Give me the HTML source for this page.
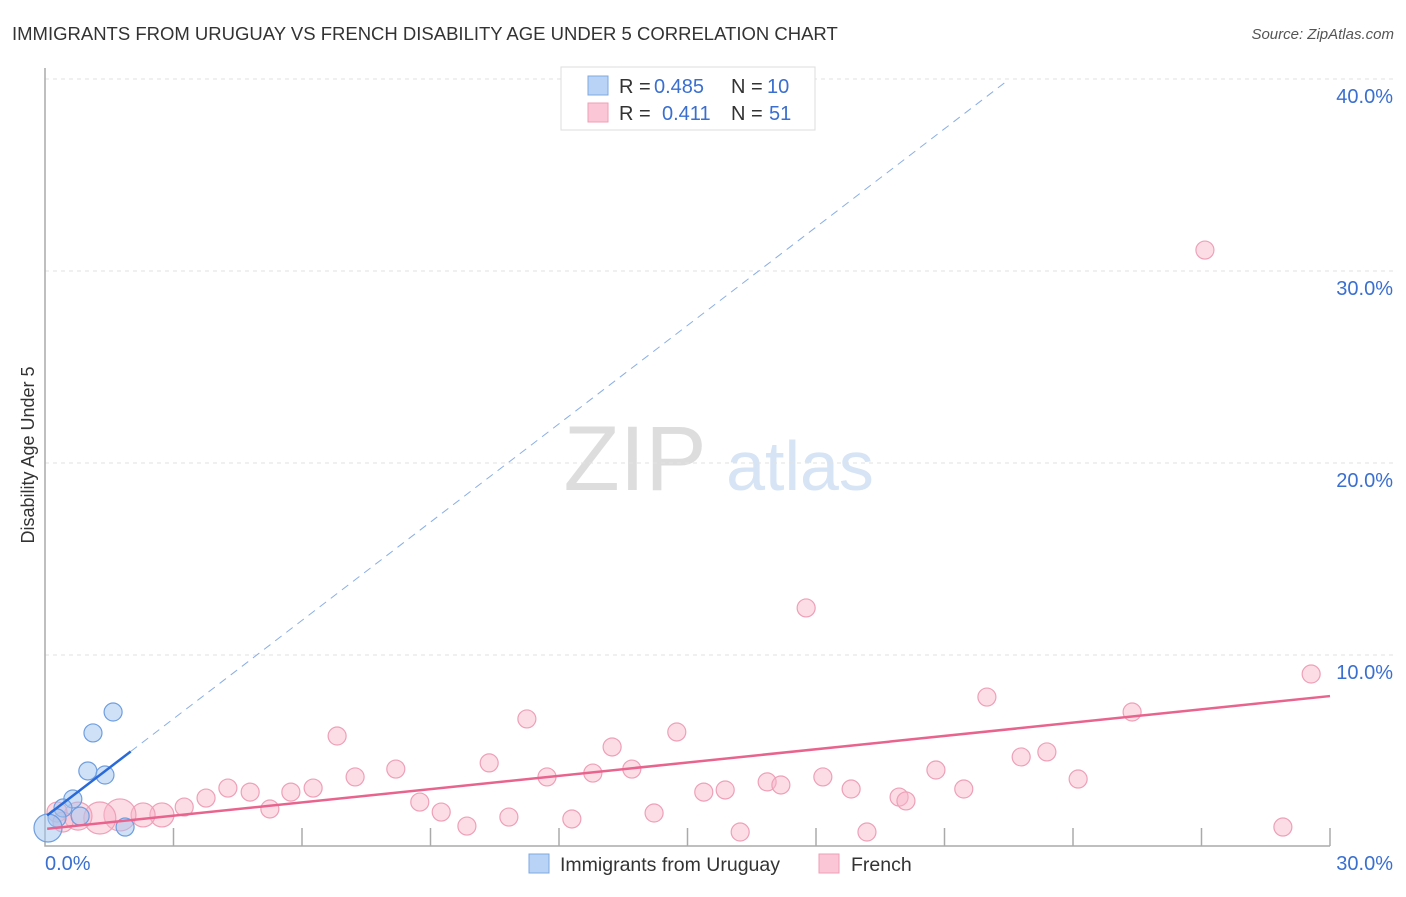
<!DOCTYPE html>
<html><head><meta charset="utf-8"><style>
body{margin:0;background:#fff;font-family:"Liberation Sans",sans-serif}
svg text{font-family:"Liberation Sans",sans-serif}
</style></head><body>
<svg id="chart" width="1406" height="892" xmlns="http://www.w3.org/2000/svg">
<text x="12" y="40" font-size="18.5" fill="#333">IMMIGRANTS FROM URUGUAY VS FRENCH DISABILITY AGE UNDER 5 CORRELATION CHART</text>
<text x="1394" y="39" font-size="15" fill="#555" font-style="italic" text-anchor="end">Source: ZipAtlas.com</text>
<text x="635" y="490" font-size="92" fill="#ddd" font-family="Liberation Serif" text-anchor="middle">ZIP</text>
<text x="800" y="490" font-size="70" fill="#d6e4f5" text-anchor="middle">atlas</text>
<g id="grid"></g><g id="axes"></g><g id="marks"></g>
<text transform="translate(34,455) rotate(-90)" font-size="18" fill="#333" text-anchor="middle">Disability Age Under 5</text>
<g>
<rect x="561" y="67" width="254" height="63" fill="#fff" stroke="#ddd"/>
<rect x="588" y="76" width="20" height="19" fill="#b8d3f6" stroke="#7fa8e0"/>
<rect x="588" y="103" width="20" height="19" fill="#fbc7d6" stroke="#ee9fb6"/>
<text x="619" y="93" font-size="20" fill="#333">R =</text>
<text x="654" y="93" font-size="20" fill="#3a6fd0">0.485</text>
<text x="731" y="93" font-size="20" fill="#333">N =</text>
<text x="767" y="93" font-size="20" fill="#3a6fd0">10</text>
<text x="619" y="120" font-size="20" fill="#333">R =</text>
<text x="662" y="120" font-size="20" fill="#3a6fd0">0.411</text>
<text x="731" y="120" font-size="20" fill="#333">N =</text>
<text x="769" y="120" font-size="20" fill="#3a6fd0">51</text>
</g>
<g>
<rect x="529" y="854" width="20" height="19" fill="#b8d3f6" stroke="#7fa8e0"/>
<text x="560" y="871" font-size="19.5" fill="#333">Immigrants from Uruguay</text>
<rect x="819" y="854" width="20" height="19" fill="#fbc7d6" stroke="#ee9fb6"/>
<text x="851" y="871" font-size="19.5" fill="#333">French</text>
</g>
</svg>
<script>
const yTicks=[10,20,30,40];
const yTickLabels=["10.0%","20.0%","30.0%","40.0%"];
const xTicks=[0,3,6,9,12,15,18,21,24,27,30];
const blueX=[1.59,1.12,1.00,1.40,0.65,0.42,0.82,0.28,1.87,0.07];
const blueY=[7.03,5.94,3.96,3.75,2.50,2.03,1.61,1.51,1.04,0.99];
const blueR=[9,9,9,9,9,9,9,9,9,14];
const pinkX=[27.08,17.77,29.56,21.99,25.38,11.25,6.82,14.75,13.24,23.39,22.79,10.37,8.19,7.24,11.72,12.79,13.70,20.80,24.12,18.16,16.86,17.18,4.27,4.79,6.26,5.74,3.76,3.25,5.25,8.75,9.25,18.82,21.45,19.94,20.10,15.88,15.38,10.83,12.30,14.22,9.85,16.23,19.19,28.90,2.73,2.29,1.75,1.28,0.77,0.28,0.42];
const pinkY=[31.09,12.45,9.01,7.81,7.03,6.67,5.78,5.99,5.21,4.95,4.69,4.38,4.06,3.65,3.65,3.85,4.06,4.01,3.54,3.65,3.39,3.23,3.07,2.86,3.07,2.86,2.55,2.08,1.98,2.34,1.82,3.02,3.02,2.60,2.40,2.97,2.86,1.56,1.46,1.77,1.09,0.78,0.78,1.04,1.67,1.67,1.67,1.51,1.61,1.82,1.30];
const pinkR=[9,9,9,9,9,9,9,9,9,9,9,9,9,9,9,9,9,9,9,9,9,9,9,9,9,9,9,9,9,9,9,9,9,9,9,9,9,9,9,9,9,9,9,9,12,12,16,16,14,10,10];
const blueLine=[1.56,1.707];
const pinkLine=[0.94,0.2307];
const X=v=>45+v/30*1285, Y=v=>847-v*19.2;
const NS="http://www.w3.org/2000/svg";
function mk(p,t,a){const e=document.createElementNS(NS,t);for(const k in a)e.setAttribute(k,a[k]);document.getElementById(p).appendChild(e);return e;}
yTicks.forEach((t,i)=>{
 let l=mk('grid','line',{x1:45,x2:1393,y1:Y(t),y2:Y(t),stroke:'#e2e2e2','stroke-dasharray':'4,4'});
 
 
 let tx=mk('grid','text',{x:1393,y:Y(t)+24,'font-size':20,fill:'#3a6fd0','text-anchor':'end'});
 tx.textContent=yTickLabels[i];
 
 
});
let ax=mk('axes','path',{d:'M45,68 V846 H1330',stroke:'#aaa',fill:'none','stroke-width':1.5});


xTicks.forEach(t=>{if(t===0)return;
 let l=mk('axes','line',{x1:X(t),x2:X(t),y1:828,y2:846,stroke:'#aaa','stroke-width':1.5});
 
 
});
let xl=mk('axes','text',{x:45,y:870,'font-size':20,fill:'#3a6fd0'});xl.textContent='0.0%';


let xr=mk('axes','text',{x:1393,y:870,'font-size':20,fill:'#3a6fd0','text-anchor':'end'});xr.textContent='30.0%';


pinkX.forEach((x,i)=>{
 let c=mk('marks','circle',{cx:X(x),cy:Y(pinkY[i]),r:pinkR[i],fill:'rgba(248,180,200,0.45)',stroke:'#eea0b8','stroke-width':1.2});
 
 
});
blueX.forEach((x,i)=>{
 let c=mk('marks','circle',{cx:X(x),cy:Y(blueY[i]),r:blueR[i],fill:'rgba(160,196,240,0.5)',stroke:'#6f9ee0','stroke-width':1.2});
 
 
});
let pl=mk('marks','line',{x1:X(0.05),y1:Y(pinkLine[0]+pinkLine[1]*0.05),x2:X(30),y2:Y(pinkLine[0]+pinkLine[1]*30),stroke:'#e8648e','stroke-width':2.5});


let bd=mk('marks','line',{x1:X(2),y1:Y(blueLine[0]+blueLine[1]*2),x2:X(22.4),y2:Y(blueLine[0]+blueLine[1]*22.4),stroke:'#8aaee6','stroke-width':1,'stroke-dasharray':'8,6'});


let bl=mk('marks','line',{x1:X(0.05),y1:Y(blueLine[0]+blueLine[1]*0.05),x2:X(2),y2:Y(blueLine[0]+blueLine[1]*2),stroke:'#2a6ad8','stroke-width':2.5});


</script>
</body></html>
